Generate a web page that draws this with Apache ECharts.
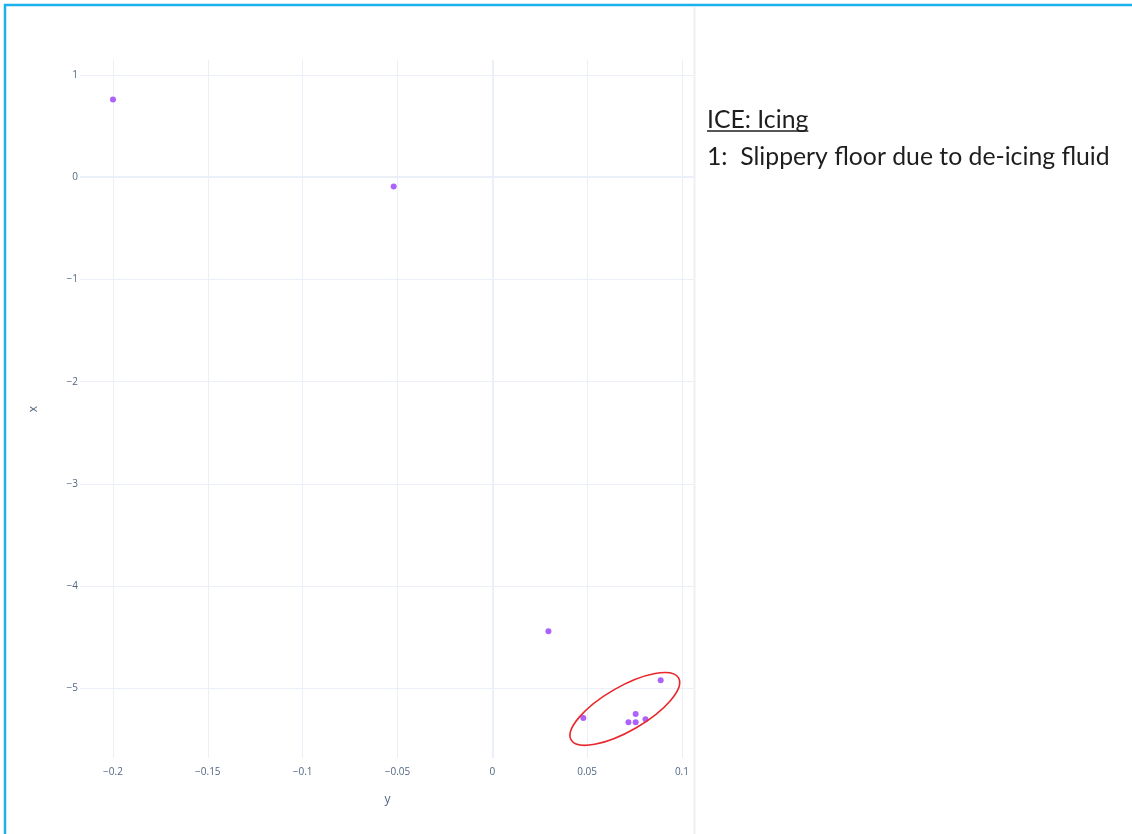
<!DOCTYPE html>
<html>
<head>
<meta charset="utf-8">
<script src="https://cdn.jsdelivr.net/npm/echarts@6/dist/echarts.min.js"></script>
<style>html,body{margin:0;padding:0;background:#fff}#chart{width:1132px;height:834px}</style>
</head>
<body>
<div id="chart"></div>
<script>
// data: [y (horizontal axis), x (vertical axis)]
const yValues = [-0.2, -0.052, 0.0296, 0.048, 0.0888, 0.0756, 0.0718, 0.0756, 0.0808];
const xValues = [0.76, -0.09, -4.44, -5.29, -4.92, -5.25, -5.33, -5.33, -5.30];
const xTickValues = [-0.2, -0.15, -0.1, -0.05, 0, 0.05, 0.1];
const yTickValues = [1, 0, -1, -2, -3, -4, -5];
const titleText = 'ICE: Icing';
const noteText = '1:  Slippery floor due to de-icing fluid';
const clusterCenter = [0.0699, -5.2];

const points = yValues.map((v, i) => [v, xValues[i]]);
const minus = v => String(v).replace('-', '\u2212');
const gridColor = '#ebf0f8';

const chart = echarts.init(document.getElementById('chart'));
const vLines = xTickValues.map(v => ({xAxis: v, lineStyle: {width: v === 0 ? 2 : 1}}));
const hLines = yTickValues.map(v => ({yAxis: v, lineStyle: {width: v === 0 ? 2 : 1}}));

chart.setOption({
  animation: false,
  grid: {left: 80, right: 437, top: 60, bottom: 76},
  xAxis: {
    type: 'value', min: -0.2174, max: 0.1069,
    name: 'y', nameLocation: 'middle', nameGap: 36,
    nameTextStyle: {color: '#506784', fontSize: 12, fontFamily: 'Open Sans'},
    axisLine: {show: false}, axisTick: {show: false}, splitLine: {show: false},
    axisLabel: {customValues: xTickValues, formatter: minus, color: '#506784', fontSize: 10, fontFamily: 'Open Sans', margin: 9}
  },
  yAxis: {
    type: 'value', min: -5.68, max: 1.146,
    name: 'x', nameLocation: 'middle', nameGap: 40, nameRotate: 90,
    nameTextStyle: {color: '#506784', fontSize: 12, fontFamily: 'Open Sans'},
    axisLine: {show: false}, axisTick: {show: false}, splitLine: {show: false},
    axisLabel: {customValues: yTickValues, formatter: minus, color: '#506784', fontSize: 10, fontFamily: 'Open Sans', margin: 2}
  },
  series: [{
    type: 'scatter', data: points, symbolSize: 6,
    itemStyle: {color: '#ab63fa', opacity: 1},
    z: 5,
    markLine: {
      silent: true, symbol: 'none', label: {show: false}, animation: false,
      lineStyle: {color: gridColor, type: 'solid'},
      data: vLines.concat(hLines), z: 1
    }
  }]
});

// fit note text width
const ctx = document.createElement('canvas').getContext('2d');
const fam = 'Lato';
ctx.font = '20px ' + fam;
const w20 = ctx.measureText(noteText).width;
const fs = 20 * 403 / w20;
ctx.font = fs + 'px ' + fam;
const tw = ctx.measureText(titleText).width;

const c = chart.convertToPixel({seriesIndex: 0}, clusterCenter);
chart.setOption({
  graphic: [
    {type: 'rect', shape: {x: 5, y: 5, width: 1150, height: 850}, style: {fill: 'none', stroke: '#1ab1ec', lineWidth: 2.5}, silent: true},
    {type: 'line', shape: {x1: 694.5, y1: 7, x2: 694.5, y2: 834}, style: {stroke: '#f0f0f0', lineWidth: 2}, silent: true},
    {type: 'text', x: 707, y: 120, style: {text: titleText, font: fs + 'px ' + fam, fill: '#1e1e1e', verticalAlign: 'middle'}},
    {type: 'line', shape: {x1: 707, y1: 131, x2: 707 + tw, y2: 131}, style: {stroke: '#1e1e1e', lineWidth: 1.3}},
    {type: 'text', x: 707, y: 157, style: {text: noteText, font: fs + 'px ' + fam, fill: '#1e1e1e', verticalAlign: 'middle'}},
    {type: 'ellipse', x: c[0], y: c[1], rotation: Math.PI / 6, shape: {cx: 0, cy: 0, rx: 62, ry: 22}, style: {fill: 'none', stroke: '#e8262b', lineWidth: 1.6}, z: 10}
  ]
});
</script>
</body>
</html>
